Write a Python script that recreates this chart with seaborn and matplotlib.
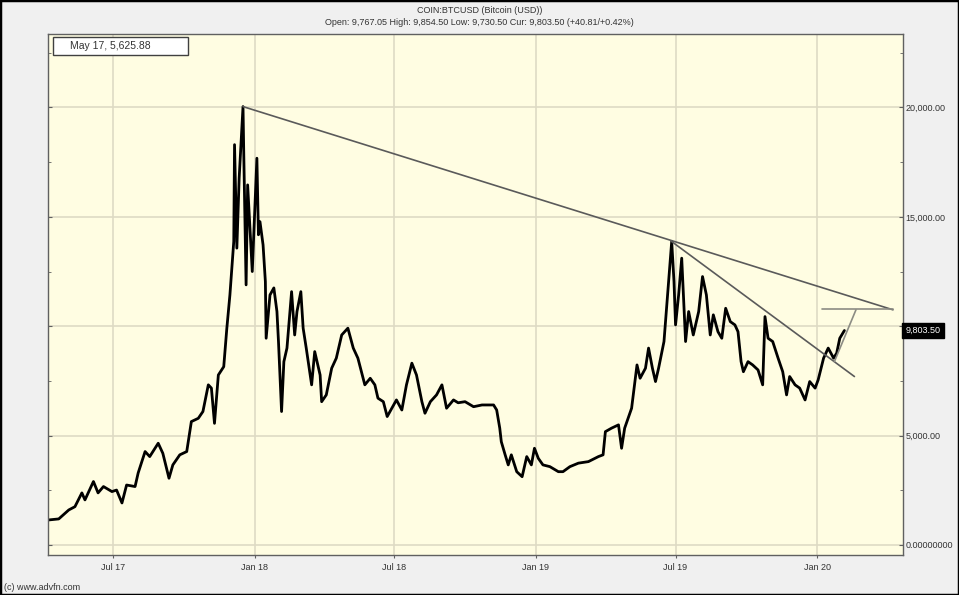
import matplotlib
matplotlib.use("Agg")
import matplotlib.pyplot as plt
import matplotlib.dates as mdates
import matplotlib.transforms as mtransforms
from matplotlib.patches import Rectangle
from matplotlib.ticker import FixedLocator, FuncFormatter
import pandas as pd
import seaborn as sns

# BTC/USD price path
dates = [
    "2017-04-08", "2017-04-22", "2017-05-05", "2017-05-13", "2017-05-22", "2017-05-26",
    "2017-06-06", "2017-06-12", "2017-06-19", "2017-06-30", "2017-07-06", "2017-07-13",
    "2017-07-19", "2017-07-30", "2017-08-03", "2017-08-12", "2017-08-18", "2017-08-29",
    "2017-09-04", "2017-09-12", "2017-09-17", "2017-09-26", "2017-10-05", "2017-10-11",
    "2017-10-20", "2017-10-26", "2017-11-02", "2017-11-06", "2017-11-10", "2017-11-15",
    "2017-11-22", "2017-11-26", "2017-11-30", "2017-12-05", "2017-12-06", "2017-12-09",
    "2017-12-12", "2017-12-17", "2017-12-18", "2017-12-21", "2017-12-23", "2017-12-29",
    "2018-01-04", "2018-01-06", "2018-01-08", "2018-01-12", "2018-01-15", "2018-01-16",
    "2018-01-21", "2018-01-26", "2018-01-30", "2018-02-01", "2018-02-05", "2018-02-08",
    "2018-02-12", "2018-02-18", "2018-02-22", "2018-02-25", "2018-03-02", "2018-03-05",
    "2018-03-09", "2018-03-16", "2018-03-20", "2018-03-27", "2018-03-29", "2018-04-04",
    "2018-04-11", "2018-04-17", "2018-04-24", "2018-05-02", "2018-05-09", "2018-05-15",
    "2018-05-24", "2018-05-31", "2018-06-06", "2018-06-10", "2018-06-17", "2018-06-22",
    "2018-06-28", "2018-07-04", "2018-07-11", "2018-07-17", "2018-07-24", "2018-07-30",
    "2018-08-06", "2018-08-10", "2018-08-17", "2018-08-25", "2018-09-01", "2018-09-07",
    "2018-09-16", "2018-09-22", "2018-10-01", "2018-10-12", "2018-10-23", "2018-11-07",
    "2018-11-11", "2018-11-15", "2018-11-17", "2018-11-22", "2018-11-26", "2018-11-30",
    "2018-12-07", "2018-12-14", "2018-12-20", "2018-12-26", "2018-12-30", "2019-01-04",
    "2019-01-10", "2019-01-19", "2019-01-30", "2019-02-05", "2019-02-14", "2019-02-25",
    "2019-03-10", "2019-03-23", "2019-03-29", "2019-04-01", "2019-04-09", "2019-04-18",
    "2019-04-22", "2019-04-26", "2019-05-05", "2019-05-12", "2019-05-16", "2019-05-23",
    "2019-05-27", "2019-06-01", "2019-06-05", "2019-06-09", "2019-06-16", "2019-06-20",
    "2019-06-26", "2019-06-29", "2019-07-01", "2019-07-05", "2019-07-09", "2019-07-14",
    "2019-07-18", "2019-07-24", "2019-07-31", "2019-08-05", "2019-08-10", "2019-08-15",
    "2019-08-19", "2019-08-25", "2019-08-30", "2019-09-04", "2019-09-10", "2019-09-16",
    "2019-09-20", "2019-09-24", "2019-09-27", "2019-10-03", "2019-10-09", "2019-10-16",
    "2019-10-22", "2019-10-25", "2019-10-29", "2019-11-04", "2019-11-11", "2019-11-17",
    "2019-11-22", "2019-11-26", "2019-12-03", "2019-12-09", "2019-12-16", "2019-12-22",
    "2019-12-29", "2020-01-02", "2020-01-09", "2020-01-15", "2020-01-22", "2020-01-26",
    "2020-01-30", "2020-02-05",
]
prices = [
    1140, 1190, 1600, 1750, 2380, 2060,
    2900, 2380, 2670, 2440, 2510, 1920,
    2740, 2670, 3290, 4270, 4040, 4650,
    4190, 3050, 3660, 4120, 4270, 5640,
    5790, 6100, 7320, 7170, 5560, 7770,
    8150, 9900, 11430, 13870, 18300, 13570,
    16770, 20040, 17830, 11890, 16460, 12500,
    17680, 14180, 14780, 13720, 12040, 9450,
    11430, 11750, 10670, 9300, 6100, 8380,
    9000, 11580, 9600, 10670, 11580, 9910,
    9000, 7320, 8840, 7770, 6550, 6860,
    8080, 8540, 9600, 9910, 9000, 8540,
    7320, 7620, 7320, 6710, 6550, 5870,
    6250, 6630, 6170, 7320, 8310, 7770,
    6550, 6020, 6550, 6860, 7320, 6250,
    6630, 6500, 6550, 6320, 6400, 6400,
    6170, 5340, 4720, 4120, 3660, 4120,
    3350, 3120, 4040, 3660, 4420, 3960,
    3660, 3580, 3350, 3350, 3580, 3740,
    3810, 4040, 4120, 5180, 5340, 5490,
    4420, 5340, 6250, 8230, 7620, 8080,
    9000, 8080, 7470, 8080, 9300, 11120,
    13870, 12040, 10060, 11430, 13110, 9300,
    10670, 9600, 10670, 12270, 11430, 9600,
    10520, 9750, 9450, 10820, 10210, 10060,
    9750, 8380, 7920, 8380, 8230, 8000,
    7320, 10440, 9450, 9300, 8540, 7920,
    6860, 7700, 7320, 7170, 6630, 7470,
    7170, 7550, 8540, 9000, 8540, 8770,
    9450, 9803.5,
]

# hand-drawn trend lines: start/end dates and prices
trend_starts = ["2017-12-17", "2019-06-26", "2020-01-07", "2020-01-23"]
trend_ends = ["2020-04-08", "2020-02-18", "2020-04-08", "2020-02-20"]
trend_start_prices = [20040, 13870, 10780, 8380]
trend_end_prices = [10750, 7700, 10780, 10750]
trend_colors = ["#5a5a5a", "#5a5a5a", "#8c8c84", "#8c8c84"]

y_ticks = [0, 5000, 10000, 15000, 20000]
cur_price = 9803.50
title = "COIN:BTCUSD (Bitcoin (USD))"
subtitle = "Open: 9,767.05 High: 9,854.50 Low: 9,730.50 Cur: 9,803.50 (+40.81/+0.42%)"
info_text = "May 17, 5,625.88"

df = pd.DataFrame({"date": pd.to_datetime(dates), "price": prices})

sns.set_style("white")
plt.rcParams["font.family"] = ["Liberation Sans", "DejaVu Sans"]

fig = plt.figure(figsize=(9.59, 5.95), dpi=100, facecolor="#f0f0f0")
ax = fig.add_axes([0.050, 0.0672, 0.8916, 0.8757])
ax.set_facecolor("#fffde2")

sns.lineplot(data=df, x="date", y="price", color="black", linewidth=2.0, ax=ax)

for s, e, p0, p1, c in zip(trend_starts, trend_ends, trend_start_prices,
                           trend_end_prices, trend_colors):
    ax.plot(pd.to_datetime([s, e]), [p0, p1], color=c, linewidth=1.2)

ax.set_xlim(pd.Timestamp("2017-04-08"), pd.Timestamp("2020-04-21"))
ax.set_ylim(-460, 23360)


def fmt_price(v, pos):
    # the 10,000 label sits under the current-price marker
    if v == 0:
        return "0.00000000"
    if abs(v - cur_price) < 800:
        return ""
    return f"{v:,.2f}"


ax.xaxis.set_major_locator(mdates.MonthLocator(bymonth=[1, 7]))
ax.xaxis.set_major_formatter(mdates.DateFormatter("%b %y"))
ax.yaxis.set_major_locator(FixedLocator(y_ticks))
ax.yaxis.set_minor_locator(FixedLocator([2500, 7500, 12500, 17500, 22500]))
ax.yaxis.set_major_formatter(FuncFormatter(fmt_price))
ax.yaxis.tick_right()
ax.tick_params(axis="y", which="both", left=True, right=True, direction="in",
               labelsize=6.5, labelcolor="#333333", length=3, color="#606060", pad=2)
ax.tick_params(axis="y", which="minor", length=2)
ax.tick_params(axis="x", labelsize=6.5, labelcolor="#333333", length=2,
               color="#606060", pad=4, bottom=True)
ax.grid(True, color="#dedbc4", linewidth=1.2)
ax.set_axisbelow(True)
ax.set_xlabel("")
ax.set_ylabel("")
for sp in ax.spines.values():
    sp.set_color("#606060")
    sp.set_linewidth(1.0)

# current price marker on the right axis
trans = mtransforms.blended_transform_factory(ax.transAxes, ax.transData)
ax.text(1.003, cur_price, f"{cur_price:,.2f}", transform=trans, fontsize=6.5,
        color="white", va="center", ha="left", clip_on=False,
        bbox=dict(boxstyle="square,pad=0.35", facecolor="black", edgecolor="black"))

fig.text(0.5, 0.982, title, ha="center", va="center", fontsize=6.5, color="#333333")
fig.text(0.5, 0.962, subtitle, ha="center", va="center", fontsize=6.5, color="#333333")
fig.text(0.004, 0.012, "(c) www.advfn.com", ha="left", va="center", fontsize=6.5,
         color="#333333")

fig.patches.append(Rectangle((53 / 959, 1 - 55 / 595), 135 / 959, 18 / 595,
                             transform=fig.transFigure, facecolor="white",
                             edgecolor="#404040", linewidth=1.0, zorder=5))
fig.text(70 / 959, 1 - 46 / 595, info_text, ha="left", va="center", fontsize=7.5,
         color="#333333", zorder=6)

fig.patches.append(Rectangle((0, 0), 1, 1, transform=fig.transFigure, fill=False,
                             edgecolor="black", linewidth=2.5, zorder=10))

fig.savefig("out.png", dpi=100, facecolor=fig.get_facecolor())
